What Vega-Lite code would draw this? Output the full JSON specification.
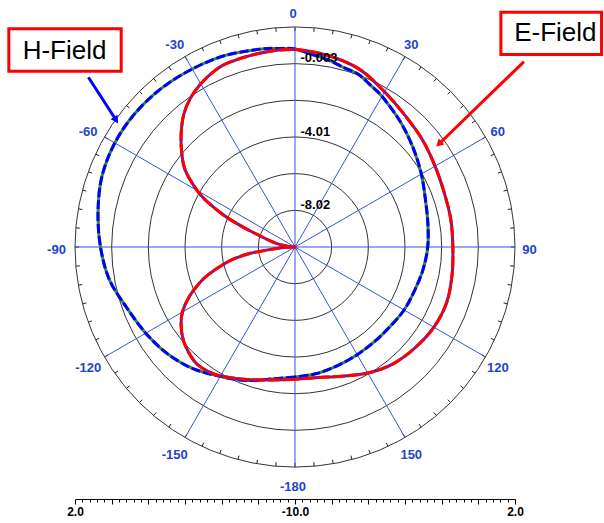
{
  "$schema": "https://vega.github.io/schema/vega-lite/v6.json",
  "width": 440,
  "height": 440,
  "autosize": {"type": "none"},
  "padding": {"left": 75, "top": 27, "right": 89, "bottom": 56},
  "background": "white",
  "config": {"view": {"stroke": null}, "font": "Liberation Sans"},
  "datasets": {
    "rings": [{"db": -8}, {"db": -6}, {"db": -4}, {"db": -2}, {"db": 0}, {"db": 2}],
    "ringlabels": [{"db": -8, "label": "-8.02"}, {"db": -4, "label": "-4.01"}, {"db": 0, "label": "-0.003"}],
    "spokes": [
      {"a": -150, "label": "-150"}, {"a": -120, "label": "-120"}, {"a": -90, "label": "-90"},
      {"a": -60, "label": "-60"}, {"a": -30, "label": "-30"}, {"a": 0, "label": "0"},
      {"a": 30, "label": "30"}, {"a": 60, "label": "60"}, {"a": 90, "label": "90"},
      {"a": 120, "label": "120"}, {"a": 150, "label": "150"}, {"a": 180, "label": "-180"}
    ],
    "ticks": [
      {"a": -175}, {"a": -170}, {"a": -165}, {"a": -160}, {"a": -155}, {"a": -150}, {"a": -145}, {"a": -140},
      {"a": -135}, {"a": -130}, {"a": -125}, {"a": -120}, {"a": -115}, {"a": -110}, {"a": -105}, {"a": -100},
      {"a": -95}, {"a": -90}, {"a": -85}, {"a": -80}, {"a": -75}, {"a": -70}, {"a": -65}, {"a": -60},
      {"a": -55}, {"a": -50}, {"a": -45}, {"a": -40}, {"a": -35}, {"a": -30}, {"a": -25}, {"a": -20},
      {"a": -15}, {"a": -10}, {"a": -5}, {"a": 0}, {"a": 5}, {"a": 10}, {"a": 15}, {"a": 20},
      {"a": 25}, {"a": 30}, {"a": 35}, {"a": 40}, {"a": 45}, {"a": 50}, {"a": 55}, {"a": 60},
      {"a": 65}, {"a": 70}, {"a": 75}, {"a": 80}, {"a": 85}, {"a": 90}, {"a": 95}, {"a": 100},
      {"a": 105}, {"a": 110}, {"a": 115}, {"a": 120}, {"a": 125}, {"a": 130}, {"a": 135}, {"a": 140},
      {"a": 145}, {"a": 150}, {"a": 155}, {"a": 160}, {"a": 165}, {"a": 170}, {"a": 175}, {"a": 180}
    ],
    "hfield": [
      {"a": -180, "db": -2.91}, {"a": -170, "db": -2.69}, {"a": -160, "db": -2.25}, {"a": -150, "db": -1.85},
      {"a": -140, "db": -1.34}, {"a": -130, "db": -0.93}, {"a": -120, "db": -0.6}, {"a": -110, "db": -0.25},
      {"a": -100, "db": 0.28}, {"a": -90, "db": 0.61}, {"a": -80, "db": 0.91}, {"a": -70, "db": 1.21},
      {"a": -60, "db": 1.35}, {"a": -50, "db": 1.37}, {"a": -40, "db": 1.31}, {"a": -30, "db": 1.21},
      {"a": -20, "db": 1.12}, {"a": -10, "db": 0.96}, {"a": -5, "db": 0.87}, {"a": 0, "db": 0.8},
      {"a": 5, "db": 0.55}, {"a": 10, "db": 0.36}, {"a": 15, "db": 0.15}, {"a": 20, "db": 0.04},
      {"a": 25, "db": -0.26}, {"a": 30, "db": -0.51}, {"a": 40, "db": -1.07}, {"a": 50, "db": -1.59},
      {"a": 60, "db": -2.04}, {"a": 70, "db": -2.43}, {"a": 80, "db": -2.64}, {"a": 90, "db": -2.76},
      {"a": 100, "db": -2.91}, {"a": 110, "db": -3.06}, {"a": 120, "db": -3.13}, {"a": 130, "db": -3.24},
      {"a": 140, "db": -3.26}, {"a": 150, "db": -3.22}, {"a": 160, "db": -3.13}, {"a": 170, "db": -3.0},
      {"a": 180, "db": -2.91}
    ],
    "efield": [
      {"a": -180, "db": -2.78}, {"a": -170, "db": -2.64}, {"a": -160, "db": -2.31}, {"a": -150, "db": -1.88},
      {"a": -145, "db": -1.72}, {"a": -140, "db": -1.67}, {"a": -135, "db": -1.82}, {"a": -130, "db": -2.06},
      {"a": -125, "db": -2.42}, {"a": -120, "db": -2.91}, {"a": -115, "db": -3.65}, {"a": -110, "db": -4.55},
      {"a": -107, "db": -5.2}, {"a": -104, "db": -5.9}, {"a": -101, "db": -6.6}, {"a": -98, "db": -7.55},
      {"a": -95, "db": -8.9}, {"a": -92, "db": -9.6}, {"a": -90, "db": -10}, {"a": -86, "db": -9.73},
      {"a": -82, "db": -9.32}, {"a": -78, "db": -8.85}, {"a": -75, "db": -8.47}, {"a": -72, "db": -7.93},
      {"a": -70, "db": -7.33}, {"a": -68, "db": -6.56}, {"a": -66, "db": -5.75}, {"a": -63, "db": -4.71},
      {"a": -60, "db": -3.84}, {"a": -55, "db": -2.69}, {"a": -50, "db": -1.93}, {"a": -45, "db": -1.22},
      {"a": -40, "db": -0.56}, {"a": -35, "db": -0.07}, {"a": -30, "db": 0.28}, {"a": -25, "db": 0.54},
      {"a": -20, "db": 0.69}, {"a": -10, "db": 0.75}, {"a": 0, "db": 0.77}, {"a": 10, "db": 0.59},
      {"a": 20, "db": 0.31}, {"a": 30, "db": -0.23}, {"a": 40, "db": -0.65}, {"a": 50, "db": -0.92},
      {"a": 60, "db": -1.18}, {"a": 70, "db": -1.34}, {"a": 80, "db": -1.37}, {"a": 90, "db": -1.39},
      {"a": 100, "db": -1.3}, {"a": 110, "db": -1.19}, {"a": 120, "db": -1.25}, {"a": 130, "db": -1.45},
      {"a": 140, "db": -1.68}, {"a": 150, "db": -2.06}, {"a": 160, "db": -2.5}, {"a": 170, "db": -2.77},
      {"a": 180, "db": -2.79}
    ]
  },
  "layer": [
    {
      "data": {"name": "ticks"},
      "transform": [
        {"calculate": "12*sin(datum.a*PI/180)", "as": "x"},
        {"calculate": "12*cos(datum.a*PI/180)", "as": "y"},
        {"calculate": "11.78*sin(datum.a*PI/180)", "as": "xi"},
        {"calculate": "11.78*cos(datum.a*PI/180)", "as": "yi"}
      ],
      "mark": {"type": "rule", "color": "#222", "strokeWidth": 1},
      "encoding": {
        "x": {"field": "x", "type": "quantitative", "scale": {"domain": [-12, 12], "nice": false, "zero": false},
          "axis": {"orient": "bottom", "offset": 32, "grid": false, "title": null, "values": [-12,-11.6,-11.2,-10.8,-10.4,-10,-9.6,-9.2,-8.8,-8.4,-8,-7.6,-7.2,-6.8,-6.4,-6,-5.6,-5.2,-4.8,-4.4,-4,-3.6,-3.2,-2.8,-2.4,-2,-1.6,-1.2,-0.8,-0.4,0,0.4,0.8,1.2,1.6,2,2.4,2.8,3.2,3.6,4,4.4,4.8,5.2,5.6,6,6.4,6.8,7.2,7.6,8,8.4,8.8,9.2,9.6,10,10.4,10.8,11.2,11.6,12], "tickSize": {"condition": {"test": "abs(datum.value/2 - round(datum.value/2)) < 0.01", "value": 5}, "value": 3}, "tickColor": "#000", "tickWidth": 1, "domainColor": "#000", "domainWidth": 1, "labelExpr": "abs(datum.value) > 11.9 ? '2.0' : (abs(datum.value) < 0.1 ? '-10.0' : '')", "labelFont": "Liberation Sans", "labelFontSize": 12, "labelFontWeight": "bold", "labelColor": "#000", "labelPadding": 2, "labelFlush": false, "labelOverlap": false}},
        "y": {"field": "y", "type": "quantitative", "scale": {"domain": [-12, 12], "nice": false, "zero": false}, "axis": null},
        "x2": {"field": "xi"},
        "y2": {"field": "yi"}
      }
    },
    {
      "data": {"name": "rings"},
      "transform": [{"calculate": "datum.db + 10", "as": "r"}, {"calculate": "0", "as": "c"}],
      "mark": {"type": "point", "shape": "circle", "filled": false, "stroke": "#333", "strokeWidth": 1, "opacity": 1},
      "encoding": {
        "x": {"field": "c", "type": "quantitative", "scale": {"domain": [-12, 12], "nice": false, "zero": false},
          "axis": {"orient": "bottom", "offset": 32, "grid": false, "title": null, "values": [-12,-11.6,-11.2,-10.8,-10.4,-10,-9.6,-9.2,-8.8,-8.4,-8,-7.6,-7.2,-6.8,-6.4,-6,-5.6,-5.2,-4.8,-4.4,-4,-3.6,-3.2,-2.8,-2.4,-2,-1.6,-1.2,-0.8,-0.4,0,0.4,0.8,1.2,1.6,2,2.4,2.8,3.2,3.6,4,4.4,4.8,5.2,5.6,6,6.4,6.8,7.2,7.6,8,8.4,8.8,9.2,9.6,10,10.4,10.8,11.2,11.6,12], "tickSize": {"condition": {"test": "abs(datum.value/2 - round(datum.value/2)) < 0.01", "value": 5}, "value": 3}, "tickColor": "#000", "tickWidth": 1, "domainColor": "#000", "domainWidth": 1, "labelExpr": "abs(datum.value) > 11.9 ? '2.0' : (abs(datum.value) < 0.1 ? '-10.0' : '')", "labelFont": "Liberation Sans", "labelFontSize": 12, "labelFontWeight": "bold", "labelColor": "#000", "labelPadding": 2, "labelFlush": false, "labelOverlap": false}},
        "y": {"field": "c", "type": "quantitative", "scale": {"domain": [-12, 12], "nice": false, "zero": false}, "axis": null},
        "size": {"field": "r", "type": "quantitative", "legend": null, "scale": {"type": "pow", "exponent": 2, "domain": [0, 12], "range": [0, 193600], "zero": true}}
      }
    },
    {
      "data": {"name": "spokes"},
      "transform": [
        {"calculate": "0", "as": "c"},
        {"calculate": "12*sin(datum.a*PI/180)", "as": "xo"},
        {"calculate": "12*cos(datum.a*PI/180)", "as": "yo"}
      ],
      "mark": {"type": "rule", "color": "#3355dd", "strokeWidth": 1},
      "encoding": {
        "x": {"field": "c", "type": "quantitative", "scale": {"domain": [-12, 12], "nice": false, "zero": false},
          "axis": {"orient": "bottom", "offset": 32, "grid": false, "title": null, "values": [-12,-11.6,-11.2,-10.8,-10.4,-10,-9.6,-9.2,-8.8,-8.4,-8,-7.6,-7.2,-6.8,-6.4,-6,-5.6,-5.2,-4.8,-4.4,-4,-3.6,-3.2,-2.8,-2.4,-2,-1.6,-1.2,-0.8,-0.4,0,0.4,0.8,1.2,1.6,2,2.4,2.8,3.2,3.6,4,4.4,4.8,5.2,5.6,6,6.4,6.8,7.2,7.6,8,8.4,8.8,9.2,9.6,10,10.4,10.8,11.2,11.6,12], "tickSize": {"condition": {"test": "abs(datum.value/2 - round(datum.value/2)) < 0.01", "value": 5}, "value": 3}, "tickColor": "#000", "tickWidth": 1, "domainColor": "#000", "domainWidth": 1, "labelExpr": "abs(datum.value) > 11.9 ? '2.0' : (abs(datum.value) < 0.1 ? '-10.0' : '')", "labelFont": "Liberation Sans", "labelFontSize": 12, "labelFontWeight": "bold", "labelColor": "#000", "labelPadding": 2, "labelFlush": false, "labelOverlap": false}},
        "y": {"field": "c", "type": "quantitative", "scale": {"domain": [-12, 12], "nice": false, "zero": false}, "axis": null},
        "x2": {"field": "xo"},
        "y2": {"field": "yo"}
      }
    },
    {
      "data": {"name": "hfield"},
      "transform": [
        {"calculate": "(datum.db+10)*sin(datum.a*PI/180)", "as": "x"},
        {"calculate": "(datum.db+10)*cos(datum.a*PI/180)", "as": "y"}
      ],
      "mark": {"type": "line", "color": "#2e8b3a", "strokeWidth": 3, "interpolate": "cardinal"},
      "encoding": {
        "x": {"field": "x", "type": "quantitative", "scale": {"domain": [-12, 12], "nice": false, "zero": false},
          "axis": {"orient": "bottom", "offset": 32, "grid": false, "title": null, "values": [-12,-11.6,-11.2,-10.8,-10.4,-10,-9.6,-9.2,-8.8,-8.4,-8,-7.6,-7.2,-6.8,-6.4,-6,-5.6,-5.2,-4.8,-4.4,-4,-3.6,-3.2,-2.8,-2.4,-2,-1.6,-1.2,-0.8,-0.4,0,0.4,0.8,1.2,1.6,2,2.4,2.8,3.2,3.6,4,4.4,4.8,5.2,5.6,6,6.4,6.8,7.2,7.6,8,8.4,8.8,9.2,9.6,10,10.4,10.8,11.2,11.6,12], "tickSize": {"condition": {"test": "abs(datum.value/2 - round(datum.value/2)) < 0.01", "value": 5}, "value": 3}, "tickColor": "#000", "tickWidth": 1, "domainColor": "#000", "domainWidth": 1, "labelExpr": "abs(datum.value) > 11.9 ? '2.0' : (abs(datum.value) < 0.1 ? '-10.0' : '')", "labelFont": "Liberation Sans", "labelFontSize": 12, "labelFontWeight": "bold", "labelColor": "#000", "labelPadding": 2, "labelFlush": false, "labelOverlap": false}},
        "y": {"field": "y", "type": "quantitative", "scale": {"domain": [-12, 12], "nice": false, "zero": false}, "axis": null},
        "order": {"field": "a", "type": "quantitative"}
      }
    },
    {
      "data": {"name": "hfield"},
      "transform": [
        {"calculate": "(datum.db+10)*sin(datum.a*PI/180)", "as": "x"},
        {"calculate": "(datum.db+10)*cos(datum.a*PI/180)", "as": "y"}
      ],
      "mark": {"type": "line", "color": "#0000ff", "strokeWidth": 3, "strokeDash": [9, 3], "interpolate": "cardinal"},
      "encoding": {
        "x": {"field": "x", "type": "quantitative", "scale": {"domain": [-12, 12], "nice": false, "zero": false},
          "axis": {"orient": "bottom", "offset": 32, "grid": false, "title": null, "values": [-12,-11.6,-11.2,-10.8,-10.4,-10,-9.6,-9.2,-8.8,-8.4,-8,-7.6,-7.2,-6.8,-6.4,-6,-5.6,-5.2,-4.8,-4.4,-4,-3.6,-3.2,-2.8,-2.4,-2,-1.6,-1.2,-0.8,-0.4,0,0.4,0.8,1.2,1.6,2,2.4,2.8,3.2,3.6,4,4.4,4.8,5.2,5.6,6,6.4,6.8,7.2,7.6,8,8.4,8.8,9.2,9.6,10,10.4,10.8,11.2,11.6,12], "tickSize": {"condition": {"test": "abs(datum.value/2 - round(datum.value/2)) < 0.01", "value": 5}, "value": 3}, "tickColor": "#000", "tickWidth": 1, "domainColor": "#000", "domainWidth": 1, "labelExpr": "abs(datum.value) > 11.9 ? '2.0' : (abs(datum.value) < 0.1 ? '-10.0' : '')", "labelFont": "Liberation Sans", "labelFontSize": 12, "labelFontWeight": "bold", "labelColor": "#000", "labelPadding": 2, "labelFlush": false, "labelOverlap": false}},
        "y": {"field": "y", "type": "quantitative", "scale": {"domain": [-12, 12], "nice": false, "zero": false}, "axis": null},
        "order": {"field": "a", "type": "quantitative"}
      }
    },
    {
      "data": {"name": "efield"},
      "transform": [
        {"calculate": "(datum.db+10)*sin(datum.a*PI/180)", "as": "x"},
        {"calculate": "(datum.db+10)*cos(datum.a*PI/180)", "as": "y"}
      ],
      "mark": {"type": "line", "color": "#7a1a8c", "strokeWidth": 3, "interpolate": "cardinal"},
      "encoding": {
        "x": {"field": "x", "type": "quantitative", "scale": {"domain": [-12, 12], "nice": false, "zero": false},
          "axis": {"orient": "bottom", "offset": 32, "grid": false, "title": null, "values": [-12,-11.6,-11.2,-10.8,-10.4,-10,-9.6,-9.2,-8.8,-8.4,-8,-7.6,-7.2,-6.8,-6.4,-6,-5.6,-5.2,-4.8,-4.4,-4,-3.6,-3.2,-2.8,-2.4,-2,-1.6,-1.2,-0.8,-0.4,0,0.4,0.8,1.2,1.6,2,2.4,2.8,3.2,3.6,4,4.4,4.8,5.2,5.6,6,6.4,6.8,7.2,7.6,8,8.4,8.8,9.2,9.6,10,10.4,10.8,11.2,11.6,12], "tickSize": {"condition": {"test": "abs(datum.value/2 - round(datum.value/2)) < 0.01", "value": 5}, "value": 3}, "tickColor": "#000", "tickWidth": 1, "domainColor": "#000", "domainWidth": 1, "labelExpr": "abs(datum.value) > 11.9 ? '2.0' : (abs(datum.value) < 0.1 ? '-10.0' : '')", "labelFont": "Liberation Sans", "labelFontSize": 12, "labelFontWeight": "bold", "labelColor": "#000", "labelPadding": 2, "labelFlush": false, "labelOverlap": false}},
        "y": {"field": "y", "type": "quantitative", "scale": {"domain": [-12, 12], "nice": false, "zero": false}, "axis": null},
        "order": {"field": "a", "type": "quantitative"}
      }
    },
    {
      "data": {"name": "efield"},
      "transform": [
        {"calculate": "(datum.db+10)*sin(datum.a*PI/180)", "as": "x"},
        {"calculate": "(datum.db+10)*cos(datum.a*PI/180)", "as": "y"}
      ],
      "mark": {"type": "line", "color": "#ff0000", "strokeWidth": 3, "strokeDash": [12, 3], "interpolate": "cardinal"},
      "encoding": {
        "x": {"field": "x", "type": "quantitative", "scale": {"domain": [-12, 12], "nice": false, "zero": false},
          "axis": {"orient": "bottom", "offset": 32, "grid": false, "title": null, "values": [-12,-11.6,-11.2,-10.8,-10.4,-10,-9.6,-9.2,-8.8,-8.4,-8,-7.6,-7.2,-6.8,-6.4,-6,-5.6,-5.2,-4.8,-4.4,-4,-3.6,-3.2,-2.8,-2.4,-2,-1.6,-1.2,-0.8,-0.4,0,0.4,0.8,1.2,1.6,2,2.4,2.8,3.2,3.6,4,4.4,4.8,5.2,5.6,6,6.4,6.8,7.2,7.6,8,8.4,8.8,9.2,9.6,10,10.4,10.8,11.2,11.6,12], "tickSize": {"condition": {"test": "abs(datum.value/2 - round(datum.value/2)) < 0.01", "value": 5}, "value": 3}, "tickColor": "#000", "tickWidth": 1, "domainColor": "#000", "domainWidth": 1, "labelExpr": "abs(datum.value) > 11.9 ? '2.0' : (abs(datum.value) < 0.1 ? '-10.0' : '')", "labelFont": "Liberation Sans", "labelFontSize": 12, "labelFontWeight": "bold", "labelColor": "#000", "labelPadding": 2, "labelFlush": false, "labelOverlap": false}},
        "y": {"field": "y", "type": "quantitative", "scale": {"domain": [-12, 12], "nice": false, "zero": false}, "axis": null},
        "order": {"field": "a", "type": "quantitative"}
      }
    },
    {
      "data": {"name": "spokes"},
      "transform": [
        {"calculate": "12.9*sin(datum.a*PI/180)", "as": "x"},
        {"calculate": "12.9*cos(datum.a*PI/180)", "as": "y"}
      ],
      "mark": {"type": "text", "color": "#2244cc", "fontSize": 13, "fontWeight": "bold", "font": "Liberation Sans", "align": "center", "baseline": "middle", "dx": -2, "dy": 3},
      "encoding": {
        "x": {"field": "x", "type": "quantitative", "scale": {"domain": [-12, 12], "nice": false, "zero": false},
          "axis": {"orient": "bottom", "offset": 32, "grid": false, "title": null, "values": [-12,-11.6,-11.2,-10.8,-10.4,-10,-9.6,-9.2,-8.8,-8.4,-8,-7.6,-7.2,-6.8,-6.4,-6,-5.6,-5.2,-4.8,-4.4,-4,-3.6,-3.2,-2.8,-2.4,-2,-1.6,-1.2,-0.8,-0.4,0,0.4,0.8,1.2,1.6,2,2.4,2.8,3.2,3.6,4,4.4,4.8,5.2,5.6,6,6.4,6.8,7.2,7.6,8,8.4,8.8,9.2,9.6,10,10.4,10.8,11.2,11.6,12], "tickSize": {"condition": {"test": "abs(datum.value/2 - round(datum.value/2)) < 0.01", "value": 5}, "value": 3}, "tickColor": "#000", "tickWidth": 1, "domainColor": "#000", "domainWidth": 1, "labelExpr": "abs(datum.value) > 11.9 ? '2.0' : (abs(datum.value) < 0.1 ? '-10.0' : '')", "labelFont": "Liberation Sans", "labelFontSize": 12, "labelFontWeight": "bold", "labelColor": "#000", "labelPadding": 2, "labelFlush": false, "labelOverlap": false}},
        "y": {"field": "y", "type": "quantitative", "scale": {"domain": [-12, 12], "nice": false, "zero": false}, "axis": null},
        "text": {"field": "label", "type": "nominal"}
      }
    },
    {
      "data": {"name": "ringlabels"},
      "transform": [{"calculate": "datum.db + 10.08", "as": "y"}, {"calculate": "0.3", "as": "xl"}],
      "mark": {"type": "text", "color": "#000", "fontSize": 13, "fontWeight": "bold", "font": "Liberation Sans", "align": "left", "baseline": "alphabetic"},
      "encoding": {
        "x": {"field": "xl", "type": "quantitative", "scale": {"domain": [-12, 12], "nice": false, "zero": false},
          "axis": {"orient": "bottom", "offset": 32, "grid": false, "title": null, "values": [-12,-11.6,-11.2,-10.8,-10.4,-10,-9.6,-9.2,-8.8,-8.4,-8,-7.6,-7.2,-6.8,-6.4,-6,-5.6,-5.2,-4.8,-4.4,-4,-3.6,-3.2,-2.8,-2.4,-2,-1.6,-1.2,-0.8,-0.4,0,0.4,0.8,1.2,1.6,2,2.4,2.8,3.2,3.6,4,4.4,4.8,5.2,5.6,6,6.4,6.8,7.2,7.6,8,8.4,8.8,9.2,9.6,10,10.4,10.8,11.2,11.6,12], "tickSize": {"condition": {"test": "abs(datum.value/2 - round(datum.value/2)) < 0.01", "value": 5}, "value": 3}, "tickColor": "#000", "tickWidth": 1, "domainColor": "#000", "domainWidth": 1, "labelExpr": "abs(datum.value) > 11.9 ? '2.0' : (abs(datum.value) < 0.1 ? '-10.0' : '')", "labelFont": "Liberation Sans", "labelFontSize": 12, "labelFontWeight": "bold", "labelColor": "#000", "labelPadding": 2, "labelFlush": false, "labelOverlap": false}},
        "y": {"field": "y", "type": "quantitative", "scale": {"domain": [-12, 12], "nice": false, "zero": false}, "axis": null},
        "text": {"field": "label", "type": "nominal"}
      }
    },
    {
      "data": {"values": [{"label": "H-Field"}]},
      "transform": [{"calculate": "-15.61", "as": "xa"}, {"calculate": "-9.48", "as": "xb"}],
      "mark": {"type": "rect", "fill": "white", "stroke": "#ff0000", "strokeWidth": 3},
      "encoding": {
        "x": {"field": "xa", "type": "quantitative", "scale": {"domain": [-12, 12], "nice": false, "zero": false},
          "axis": {"orient": "bottom", "offset": 32, "grid": false, "title": null, "values": [-12,-11.6,-11.2,-10.8,-10.4,-10,-9.6,-9.2,-8.8,-8.4,-8,-7.6,-7.2,-6.8,-6.4,-6,-5.6,-5.2,-4.8,-4.4,-4,-3.6,-3.2,-2.8,-2.4,-2,-1.6,-1.2,-0.8,-0.4,0,0.4,0.8,1.2,1.6,2,2.4,2.8,3.2,3.6,4,4.4,4.8,5.2,5.6,6,6.4,6.8,7.2,7.6,8,8.4,8.8,9.2,9.6,10,10.4,10.8,11.2,11.6,12], "tickSize": {"condition": {"test": "abs(datum.value/2 - round(datum.value/2)) < 0.01", "value": 5}, "value": 3}, "tickColor": "#000", "tickWidth": 1, "domainColor": "#000", "domainWidth": 1, "labelExpr": "abs(datum.value) > 11.9 ? '2.0' : (abs(datum.value) < 0.1 ? '-10.0' : '')", "labelFont": "Liberation Sans", "labelFontSize": 12, "labelFontWeight": "bold", "labelColor": "#000", "labelPadding": 2, "labelFlush": false, "labelOverlap": false}},
        "x2": {"field": "xb"},
        "y": {"datum": 11.9, "type": "quantitative", "scale": {"domain": [-12, 12], "nice": false, "zero": false}, "axis": null},
        "y2": {"datum": 9.59}
      }
    },
    {
      "data": {"values": [{"label": "H-Field"}]},
      "transform": [{"calculate": "-12.57", "as": "xa"}],
      "mark": {"type": "text", "color": "#000", "fontSize": 26, "font": "Liberation Sans", "align": "center", "baseline": "middle"},
      "encoding": {
        "x": {"field": "xa", "type": "quantitative", "scale": {"domain": [-12, 12], "nice": false, "zero": false},
          "axis": {"orient": "bottom", "offset": 32, "grid": false, "title": null, "values": [-12,-11.6,-11.2,-10.8,-10.4,-10,-9.6,-9.2,-8.8,-8.4,-8,-7.6,-7.2,-6.8,-6.4,-6,-5.6,-5.2,-4.8,-4.4,-4,-3.6,-3.2,-2.8,-2.4,-2,-1.6,-1.2,-0.8,-0.4,0,0.4,0.8,1.2,1.6,2,2.4,2.8,3.2,3.6,4,4.4,4.8,5.2,5.6,6,6.4,6.8,7.2,7.6,8,8.4,8.8,9.2,9.6,10,10.4,10.8,11.2,11.6,12], "tickSize": {"condition": {"test": "abs(datum.value/2 - round(datum.value/2)) < 0.01", "value": 5}, "value": 3}, "tickColor": "#000", "tickWidth": 1, "domainColor": "#000", "domainWidth": 1, "labelExpr": "abs(datum.value) > 11.9 ? '2.0' : (abs(datum.value) < 0.1 ? '-10.0' : '')", "labelFont": "Liberation Sans", "labelFontSize": 12, "labelFontWeight": "bold", "labelColor": "#000", "labelPadding": 2, "labelFlush": false, "labelOverlap": false}},
        "y": {"datum": 10.71, "type": "quantitative", "scale": {"domain": [-12, 12], "nice": false, "zero": false}, "axis": null},
        "text": {"field": "label", "type": "nominal"}
      }
    },
    {
      "data": {"values": [{"label": "E-Field"}]},
      "transform": [{"calculate": "11.23", "as": "xa"}, {"calculate": "16.72", "as": "xb"}],
      "mark": {"type": "rect", "fill": "white", "stroke": "#ff0000", "strokeWidth": 3},
      "encoding": {
        "x": {"field": "xa", "type": "quantitative", "scale": {"domain": [-12, 12], "nice": false, "zero": false},
          "axis": {"orient": "bottom", "offset": 32, "grid": false, "title": null, "values": [-12,-11.6,-11.2,-10.8,-10.4,-10,-9.6,-9.2,-8.8,-8.4,-8,-7.6,-7.2,-6.8,-6.4,-6,-5.6,-5.2,-4.8,-4.4,-4,-3.6,-3.2,-2.8,-2.4,-2,-1.6,-1.2,-0.8,-0.4,0,0.4,0.8,1.2,1.6,2,2.4,2.8,3.2,3.6,4,4.4,4.8,5.2,5.6,6,6.4,6.8,7.2,7.6,8,8.4,8.8,9.2,9.6,10,10.4,10.8,11.2,11.6,12], "tickSize": {"condition": {"test": "abs(datum.value/2 - round(datum.value/2)) < 0.01", "value": 5}, "value": 3}, "tickColor": "#000", "tickWidth": 1, "domainColor": "#000", "domainWidth": 1, "labelExpr": "abs(datum.value) > 11.9 ? '2.0' : (abs(datum.value) < 0.1 ? '-10.0' : '')", "labelFont": "Liberation Sans", "labelFontSize": 12, "labelFontWeight": "bold", "labelColor": "#000", "labelPadding": 2, "labelFlush": false, "labelOverlap": false}},
        "x2": {"field": "xb"},
        "y": {"datum": 12.81, "type": "quantitative", "scale": {"domain": [-12, 12], "nice": false, "zero": false}, "axis": null},
        "y2": {"datum": 10.5}
      }
    },
    {
      "data": {"values": [{"label": "E-Field"}]},
      "transform": [{"calculate": "14.2", "as": "xa"}],
      "mark": {"type": "text", "color": "#000", "fontSize": 26, "font": "Liberation Sans", "align": "center", "baseline": "middle"},
      "encoding": {
        "x": {"field": "xa", "type": "quantitative", "scale": {"domain": [-12, 12], "nice": false, "zero": false},
          "axis": {"orient": "bottom", "offset": 32, "grid": false, "title": null, "values": [-12,-11.6,-11.2,-10.8,-10.4,-10,-9.6,-9.2,-8.8,-8.4,-8,-7.6,-7.2,-6.8,-6.4,-6,-5.6,-5.2,-4.8,-4.4,-4,-3.6,-3.2,-2.8,-2.4,-2,-1.6,-1.2,-0.8,-0.4,0,0.4,0.8,1.2,1.6,2,2.4,2.8,3.2,3.6,4,4.4,4.8,5.2,5.6,6,6.4,6.8,7.2,7.6,8,8.4,8.8,9.2,9.6,10,10.4,10.8,11.2,11.6,12], "tickSize": {"condition": {"test": "abs(datum.value/2 - round(datum.value/2)) < 0.01", "value": 5}, "value": 3}, "tickColor": "#000", "tickWidth": 1, "domainColor": "#000", "domainWidth": 1, "labelExpr": "abs(datum.value) > 11.9 ? '2.0' : (abs(datum.value) < 0.1 ? '-10.0' : '')", "labelFont": "Liberation Sans", "labelFontSize": 12, "labelFontWeight": "bold", "labelColor": "#000", "labelPadding": 2, "labelFlush": false, "labelOverlap": false}},
        "y": {"datum": 11.66, "type": "quantitative", "scale": {"domain": [-12, 12], "nice": false, "zero": false}, "axis": null},
        "text": {"field": "label", "type": "nominal"}
      }
    },
    {
      "data": {"values": [{"label": "H-Field"}]},
      "transform": [{"calculate": "-11.27", "as": "xa"}, {"calculate": "-9.76", "as": "xb"}],
      "mark": {"type": "rule", "color": "#0000ff", "strokeWidth": 3},
      "encoding": {
        "x": {"field": "xa", "type": "quantitative", "scale": {"domain": [-12, 12], "nice": false, "zero": false},
          "axis": {"orient": "bottom", "offset": 32, "grid": false, "title": null, "values": [-12,-11.6,-11.2,-10.8,-10.4,-10,-9.6,-9.2,-8.8,-8.4,-8,-7.6,-7.2,-6.8,-6.4,-6,-5.6,-5.2,-4.8,-4.4,-4,-3.6,-3.2,-2.8,-2.4,-2,-1.6,-1.2,-0.8,-0.4,0,0.4,0.8,1.2,1.6,2,2.4,2.8,3.2,3.6,4,4.4,4.8,5.2,5.6,6,6.4,6.8,7.2,7.6,8,8.4,8.8,9.2,9.6,10,10.4,10.8,11.2,11.6,12], "tickSize": {"condition": {"test": "abs(datum.value/2 - round(datum.value/2)) < 0.01", "value": 5}, "value": 3}, "tickColor": "#000", "tickWidth": 1, "domainColor": "#000", "domainWidth": 1, "labelExpr": "abs(datum.value) > 11.9 ? '2.0' : (abs(datum.value) < 0.1 ? '-10.0' : '')", "labelFont": "Liberation Sans", "labelFontSize": 12, "labelFontWeight": "bold", "labelColor": "#000", "labelPadding": 2, "labelFlush": false, "labelOverlap": false}},
        "x2": {"field": "xb"},
        "y": {"datum": 9.26, "type": "quantitative", "scale": {"domain": [-12, 12], "nice": false, "zero": false}, "axis": null},
        "y2": {"datum": 6.93}
      }
    },
    {
      "data": {"values": [{"label": "H-Field"}]},
      "transform": [{"calculate": "-9.76", "as": "xa"}],
      "mark": {"type": "point", "shape": "triangle-up", "filled": true, "size": 70, "angle": 147, "color": "#0000ff", "opacity": 1},
      "encoding": {
        "x": {"field": "xa", "type": "quantitative", "scale": {"domain": [-12, 12], "nice": false, "zero": false},
          "axis": {"orient": "bottom", "offset": 32, "grid": false, "title": null, "values": [-12,-11.6,-11.2,-10.8,-10.4,-10,-9.6,-9.2,-8.8,-8.4,-8,-7.6,-7.2,-6.8,-6.4,-6,-5.6,-5.2,-4.8,-4.4,-4,-3.6,-3.2,-2.8,-2.4,-2,-1.6,-1.2,-0.8,-0.4,0,0.4,0.8,1.2,1.6,2,2.4,2.8,3.2,3.6,4,4.4,4.8,5.2,5.6,6,6.4,6.8,7.2,7.6,8,8.4,8.8,9.2,9.6,10,10.4,10.8,11.2,11.6,12], "tickSize": {"condition": {"test": "abs(datum.value/2 - round(datum.value/2)) < 0.01", "value": 5}, "value": 3}, "tickColor": "#000", "tickWidth": 1, "domainColor": "#000", "domainWidth": 1, "labelExpr": "abs(datum.value) > 11.9 ? '2.0' : (abs(datum.value) < 0.1 ? '-10.0' : '')", "labelFont": "Liberation Sans", "labelFontSize": 12, "labelFontWeight": "bold", "labelColor": "#000", "labelPadding": 2, "labelFlush": false, "labelOverlap": false}},
        "y": {"datum": 6.93, "type": "quantitative", "scale": {"domain": [-12, 12], "nice": false, "zero": false}, "axis": null}
      }
    },
    {
      "data": {"values": [{"label": "E-Field"}]},
      "transform": [{"calculate": "12.49", "as": "xa"}, {"calculate": "7.85", "as": "xb"}],
      "mark": {"type": "rule", "color": "#ff0000", "strokeWidth": 3},
      "encoding": {
        "x": {"field": "xa", "type": "quantitative", "scale": {"domain": [-12, 12], "nice": false, "zero": false},
          "axis": {"orient": "bottom", "offset": 32, "grid": false, "title": null, "values": [-12,-11.6,-11.2,-10.8,-10.4,-10,-9.6,-9.2,-8.8,-8.4,-8,-7.6,-7.2,-6.8,-6.4,-6,-5.6,-5.2,-4.8,-4.4,-4,-3.6,-3.2,-2.8,-2.4,-2,-1.6,-1.2,-0.8,-0.4,0,0.4,0.8,1.2,1.6,2,2.4,2.8,3.2,3.6,4,4.4,4.8,5.2,5.6,6,6.4,6.8,7.2,7.6,8,8.4,8.8,9.2,9.6,10,10.4,10.8,11.2,11.6,12], "tickSize": {"condition": {"test": "abs(datum.value/2 - round(datum.value/2)) < 0.01", "value": 5}, "value": 3}, "tickColor": "#000", "tickWidth": 1, "domainColor": "#000", "domainWidth": 1, "labelExpr": "abs(datum.value) > 11.9 ? '2.0' : (abs(datum.value) < 0.1 ? '-10.0' : '')", "labelFont": "Liberation Sans", "labelFontSize": 12, "labelFontWeight": "bold", "labelColor": "#000", "labelPadding": 2, "labelFlush": false, "labelOverlap": false}},
        "x2": {"field": "xb"},
        "y": {"datum": 10.11, "type": "quantitative", "scale": {"domain": [-12, 12], "nice": false, "zero": false}, "axis": null},
        "y2": {"datum": 5.62}
      }
    },
    {
      "data": {"values": [{"label": "E-Field"}]},
      "transform": [{"calculate": "7.85", "as": "xa"}],
      "mark": {"type": "point", "shape": "triangle-up", "filled": true, "size": 70, "angle": 226, "color": "#ff0000", "opacity": 1},
      "encoding": {
        "x": {"field": "xa", "type": "quantitative", "scale": {"domain": [-12, 12], "nice": false, "zero": false},
          "axis": {"orient": "bottom", "offset": 32, "grid": false, "title": null, "values": [-12,-11.6,-11.2,-10.8,-10.4,-10,-9.6,-9.2,-8.8,-8.4,-8,-7.6,-7.2,-6.8,-6.4,-6,-5.6,-5.2,-4.8,-4.4,-4,-3.6,-3.2,-2.8,-2.4,-2,-1.6,-1.2,-0.8,-0.4,0,0.4,0.8,1.2,1.6,2,2.4,2.8,3.2,3.6,4,4.4,4.8,5.2,5.6,6,6.4,6.8,7.2,7.6,8,8.4,8.8,9.2,9.6,10,10.4,10.8,11.2,11.6,12], "tickSize": {"condition": {"test": "abs(datum.value/2 - round(datum.value/2)) < 0.01", "value": 5}, "value": 3}, "tickColor": "#000", "tickWidth": 1, "domainColor": "#000", "domainWidth": 1, "labelExpr": "abs(datum.value) > 11.9 ? '2.0' : (abs(datum.value) < 0.1 ? '-10.0' : '')", "labelFont": "Liberation Sans", "labelFontSize": 12, "labelFontWeight": "bold", "labelColor": "#000", "labelPadding": 2, "labelFlush": false, "labelOverlap": false}},
        "y": {"datum": 5.62, "type": "quantitative", "scale": {"domain": [-12, 12], "nice": false, "zero": false}, "axis": null}
      }
    }
  ]
}
